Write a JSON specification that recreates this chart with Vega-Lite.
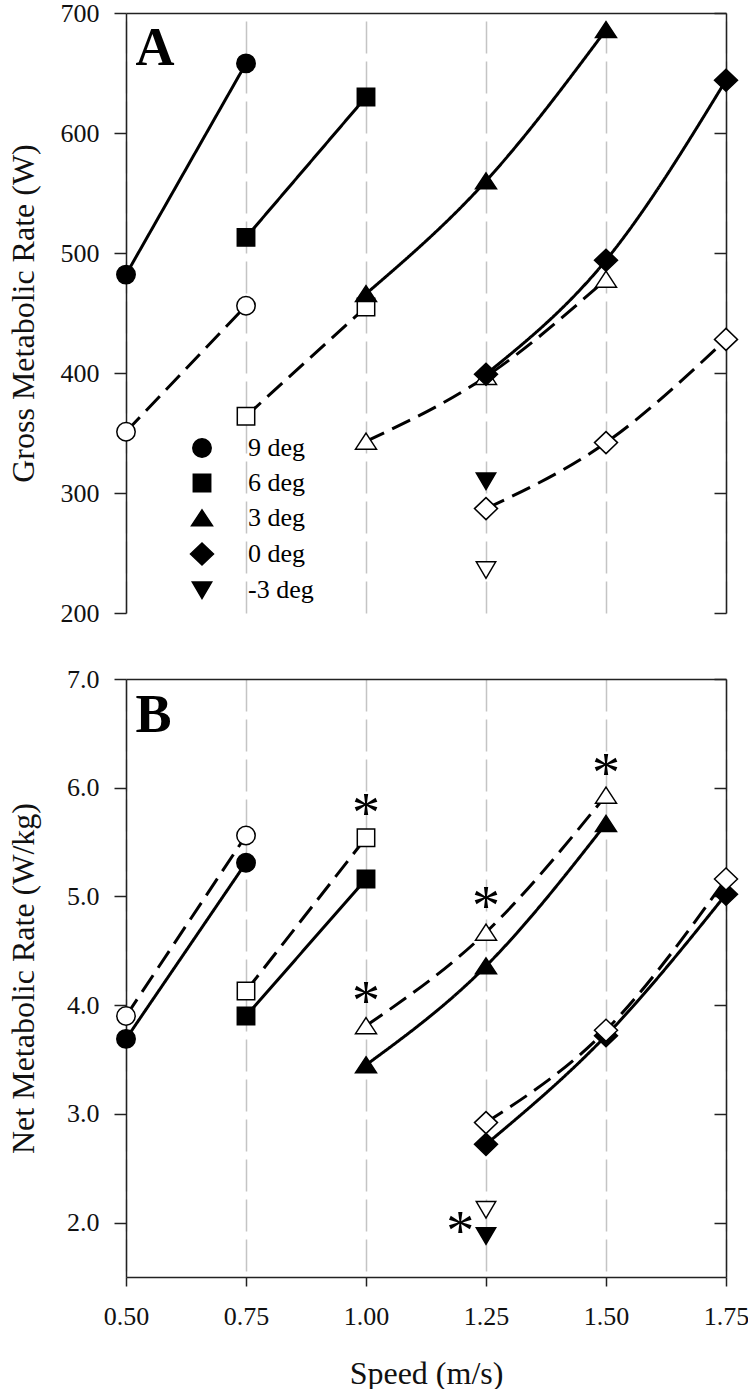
{
  "$schema": "https://vega.github.io/schema/vega-lite/v6.json",
  "padding": {"left": 7, "top": 0, "right": 0, "bottom": 0},
  "background": "white",
  "spacing": 66,
  "bounds": "flush",
  "config": {
    "font": "Liberation Serif",
    "view": {"stroke": null},
    "axis": {
      "domainColor": "#222", "domainWidth": 1.5, "tickColor": "#222", "tickWidth": 1.5,
      "labelColor": "#111", "titleColor": "#111", "labelFontSize": 26, "titleFontSize": 32,
      "titleFontWeight": "normal", "labelFont": "Liberation Serif", "titleFont": "Liberation Serif",
      "grid": false, "labelFlush": false, "labelOverlap": false, "labelBound": false
    }
  },
  "datasets": {
    "gross": [
      {"speed": 0.5, "rate": 482, "incline": "9 deg", "marker": "filled"},
      {"speed": 0.75, "rate": 658, "incline": "9 deg", "marker": "filled"},
      {"speed": 0.5, "rate": 351, "incline": "9 deg", "marker": "open"},
      {"speed": 0.75, "rate": 456, "incline": "9 deg", "marker": "open"},
      {"speed": 0.75, "rate": 513, "incline": "6 deg", "marker": "filled"},
      {"speed": 1.0, "rate": 630, "incline": "6 deg", "marker": "filled"},
      {"speed": 0.75, "rate": 364, "incline": "6 deg", "marker": "open"},
      {"speed": 1.0, "rate": 455, "incline": "6 deg", "marker": "open"},
      {"speed": 1.0, "rate": 466, "incline": "3 deg", "marker": "filled"},
      {"speed": 1.25, "rate": 560, "incline": "3 deg", "marker": "filled"},
      {"speed": 1.5, "rate": 686, "incline": "3 deg", "marker": "filled"},
      {"speed": 1.0, "rate": 343, "incline": "3 deg", "marker": "open"},
      {"speed": 1.25, "rate": 397, "incline": "3 deg", "marker": "open"},
      {"speed": 1.5, "rate": 478, "incline": "3 deg", "marker": "open"},
      {"speed": 1.25, "rate": 399, "incline": "0 deg", "marker": "filled"},
      {"speed": 1.5, "rate": 494, "incline": "0 deg", "marker": "filled"},
      {"speed": 1.75, "rate": 644, "incline": "0 deg", "marker": "filled"},
      {"speed": 1.25, "rate": 287, "incline": "0 deg", "marker": "open"},
      {"speed": 1.5, "rate": 342, "incline": "0 deg", "marker": "open"},
      {"speed": 1.75, "rate": 428, "incline": "0 deg", "marker": "open"},
      {"speed": 1.25, "rate": 310, "incline": "-3 deg", "marker": "filled"},
      {"speed": 1.25, "rate": 236, "incline": "-3 deg", "marker": "open"}
    ],
    "net": [
      {"speed": 0.5, "rate": 3.69, "incline": "9 deg", "marker": "filled"},
      {"speed": 0.75, "rate": 5.31, "incline": "9 deg", "marker": "filled"},
      {"speed": 0.5, "rate": 3.90, "incline": "9 deg", "marker": "open"},
      {"speed": 0.75, "rate": 5.56, "incline": "9 deg", "marker": "open"},
      {"speed": 0.75, "rate": 3.90, "incline": "6 deg", "marker": "filled"},
      {"speed": 1.0, "rate": 5.16, "incline": "6 deg", "marker": "filled"},
      {"speed": 0.75, "rate": 4.13, "incline": "6 deg", "marker": "open"},
      {"speed": 1.0, "rate": 5.54, "incline": "6 deg", "marker": "open"},
      {"speed": 1.0, "rate": 3.45, "incline": "3 deg", "marker": "filled"},
      {"speed": 1.25, "rate": 4.36, "incline": "3 deg", "marker": "filled"},
      {"speed": 1.5, "rate": 5.67, "incline": "3 deg", "marker": "filled"},
      {"speed": 1.0, "rate": 3.81, "incline": "3 deg", "marker": "open"},
      {"speed": 1.25, "rate": 4.67, "incline": "3 deg", "marker": "open"},
      {"speed": 1.5, "rate": 5.93, "incline": "3 deg", "marker": "open"},
      {"speed": 1.25, "rate": 2.72, "incline": "0 deg", "marker": "filled"},
      {"speed": 1.5, "rate": 3.72, "incline": "0 deg", "marker": "filled"},
      {"speed": 1.75, "rate": 5.02, "incline": "0 deg", "marker": "filled"},
      {"speed": 1.25, "rate": 2.92, "incline": "0 deg", "marker": "open"},
      {"speed": 1.5, "rate": 3.77, "incline": "0 deg", "marker": "open"},
      {"speed": 1.75, "rate": 5.16, "incline": "0 deg", "marker": "open"},
      {"speed": 1.25, "rate": 1.88, "incline": "-3 deg", "marker": "filled"},
      {"speed": 1.25, "rate": 2.12, "incline": "-3 deg", "marker": "open"}
    ],
    "stars": [
      {"speed": 1.0, "rate": 5.83, "label": "*"},
      {"speed": 1.0, "rate": 4.10, "label": "*"},
      {"speed": 1.25, "rate": 4.98, "label": "*"},
      {"speed": 1.5, "rate": 6.20, "label": "*"},
      {"speed": 1.1965, "rate": 1.99, "label": "*"}
    ],
    "labelA": [{"speed": 0.52, "rate": 657, "label": "A"}],
    "labelB": [{"speed": 0.52, "rate": 6.51, "label": "B"}]
  },
  "resolve": {
    "scale": {"x": "independent", "y": "independent", "shape": "independent", "fill": "independent", "strokeDash": "independent"},
    "legend": {"shape": "independent", "fill": "independent", "strokeDash": "independent"}
  },
  "vconcat": [
    {
      "width": 600,
      "height": 600,
      "resolve": {"axis": {"x": "independent", "y": "independent"}},
      "layer": [
        {
          "data": {"name": "gross"},
          "mark": {"type": "line", "interpolate": "monotone", "color": "black", "strokeWidth": 3},
          "encoding": {
            "x": {"field": "speed", "type": "quantitative",
              "scale": {"domain": [0.5, 1.75], "nice": false, "zero": false},
              "axis": {"orient": "top", "labels": false, "ticks": false, "domain": true, "grid": true,
                "gridColor": "#c4c4c4", "gridDash": [32, 8], "gridWidth": 1.5, "title": null,
                "values": [0.5, 0.75, 1.0, 1.25, 1.5, 1.75]}},
            "y": {"field": "rate", "type": "quantitative",
              "scale": {"domain": [200, 700], "nice": false, "zero": false},
              "axis": {"orient": "left", "values": [200, 300, 400, 500, 600, 700], "tickSize": 12,
                "labelPadding": 15, "title": "Gross Metabolic Rate (W)", "titlePadding": 20, "format": "d"}},
            "detail": {"field": "incline"},
            "strokeDash": {"field": "marker", "type": "nominal",
              "scale": {"domain": ["filled", "open"], "range": [[1, 0], [20, 9]]}, "legend": null}
          }
        },
        {
          "data": {"name": "gross"},
          "mark": {"type": "point", "filled": true, "color": "black", "stroke": "black", "strokeWidth": 1.5, "opacity": 1, "size": 400},
          "encoding": {
            "x": {"field": "speed", "type": "quantitative", "axis": null},
            "y": {"field": "rate", "type": "quantitative",
              "axis": {"orient": "right", "labels": false, "tickSize": -12, "values": [200, 300, 400, 500, 600, 700], "title": null}},
            "shape": {"field": "incline", "type": "nominal",
              "scale": {"domain": ["9 deg", "6 deg", "3 deg", "0 deg", "-3 deg"],
                "range": ["M0.92,0A0.92,0.92,0,1,1,-0.92,0A0.92,0.92,0,1,1,0.92,0Z",
                  "M-0.87,-0.87L0.87,-0.87L0.87,0.87L-0.87,0.87Z",
                  "M0,-0.82L1.05,0.78L-1.05,0.78Z",
                  "M0,-1.1L1.15,0L0,1.1L-1.15,0Z",
                  "M-0.97,-0.8L0.97,-0.8L0,0.85Z"]},
              "legend": {"orient": "none", "legendX": 63, "legendY": 422, "title": null,
                "labelFontSize": 26, "labelFont": "Liberation Serif", "labelColor": "black",
                "labelOffset": 33, "rowPadding": 9, "symbolSize": 400, "symbolFillColor": "black",
                "symbolStrokeColor": "black", "symbolStrokeWidth": 1.5, "padding": 0, "symbolOpacity": 1}},
            "fill": {"field": "marker", "type": "nominal",
              "scale": {"domain": ["filled", "open"], "range": ["black", "white"]}, "legend": null}
          }
        },
        {
          "data": {"name": "labelA"},
          "mark": {"type": "text", "font": "Liberation Serif", "fontWeight": "bold", "fontSize": 54, "align": "left", "baseline": "alphabetic", "color": "black"},
          "encoding": {
            "x": {"field": "speed", "type": "quantitative", "axis": null},
            "y": {"field": "rate", "type": "quantitative", "axis": null},
            "text": {"field": "label"}
          }
        }
      ]
    },
    {
      "width": 600,
      "height": 598,
      "resolve": {"axis": {"x": "independent", "y": "independent"}},
      "layer": [
        {
          "data": {"name": "net"},
          "mark": {"type": "line", "interpolate": "monotone", "color": "black", "strokeWidth": 3},
          "encoding": {
            "x": {"field": "speed", "type": "quantitative",
              "scale": {"domain": [0.5, 1.75], "nice": false, "zero": false},
              "axis": {"orient": "bottom", "grid": true, "gridColor": "#c4c4c4", "gridDash": [32, 8], "gridWidth": 1.5,
                "values": [0.5, 0.75, 1.0, 1.25, 1.5, 1.75], "format": ".2f", "tickSize": 9, "labelPadding": 17,
                "title": "Speed (m/s)", "titlePadding": 29}},
            "y": {"field": "rate", "type": "quantitative",
              "scale": {"domain": [1.5, 7.0], "nice": false, "zero": false},
              "axis": {"orient": "left", "values": [2, 3, 4, 5, 6, 7], "format": ".1f", "tickSize": 12,
                "labelPadding": 15, "title": "Net Metabolic Rate (W/kg)", "titlePadding": 26}},
            "detail": {"field": "incline"},
            "strokeDash": {"field": "marker", "type": "nominal",
              "scale": {"domain": ["filled", "open"], "range": [[1, 0], [20, 9]]}, "legend": null}
          }
        },
        {
          "data": {"name": "net"},
          "mark": {"type": "point", "filled": true, "color": "black", "stroke": "black", "strokeWidth": 1.5, "opacity": 1, "size": 400},
          "encoding": {
            "x": {"field": "speed", "type": "quantitative",
              "axis": {"orient": "top", "labels": false, "ticks": false, "domain": true, "grid": false, "title": null}},
            "y": {"field": "rate", "type": "quantitative",
              "axis": {"orient": "right", "labels": false, "tickSize": -12, "values": [2, 3, 4, 5, 6, 7], "title": null}},
            "shape": {"field": "incline", "type": "nominal",
              "scale": {"domain": ["9 deg", "6 deg", "3 deg", "0 deg", "-3 deg"],
                "range": ["M0.92,0A0.92,0.92,0,1,1,-0.92,0A0.92,0.92,0,1,1,0.92,0Z",
                  "M-0.87,-0.87L0.87,-0.87L0.87,0.87L-0.87,0.87Z",
                  "M0,-0.82L1.05,0.78L-1.05,0.78Z",
                  "M0,-1.1L1.15,0L0,1.1L-1.15,0Z",
                  "M-0.97,-0.8L0.97,-0.8L0,0.85Z"]},
              "legend": null},
            "fill": {"field": "marker", "type": "nominal",
              "scale": {"domain": ["filled", "open"], "range": ["black", "white"]}, "legend": null}
          }
        },
        {
          "data": {"name": "stars"},
          "mark": {"type": "text", "font": "Liberation Serif", "fontSize": 56, "align": "center", "baseline": "alphabetic", "dy": 26, "color": "black"},
          "encoding": {
            "x": {"field": "speed", "type": "quantitative", "axis": null},
            "y": {"field": "rate", "type": "quantitative", "axis": null},
            "text": {"field": "label"}
          }
        },
        {
          "data": {"name": "labelB"},
          "mark": {"type": "text", "font": "Liberation Serif", "fontWeight": "bold", "fontSize": 54, "align": "left", "baseline": "alphabetic", "color": "black"},
          "encoding": {
            "x": {"field": "speed", "type": "quantitative", "axis": null},
            "y": {"field": "rate", "type": "quantitative", "axis": null},
            "text": {"field": "label"}
          }
        }
      ]
    }
  ]
}
